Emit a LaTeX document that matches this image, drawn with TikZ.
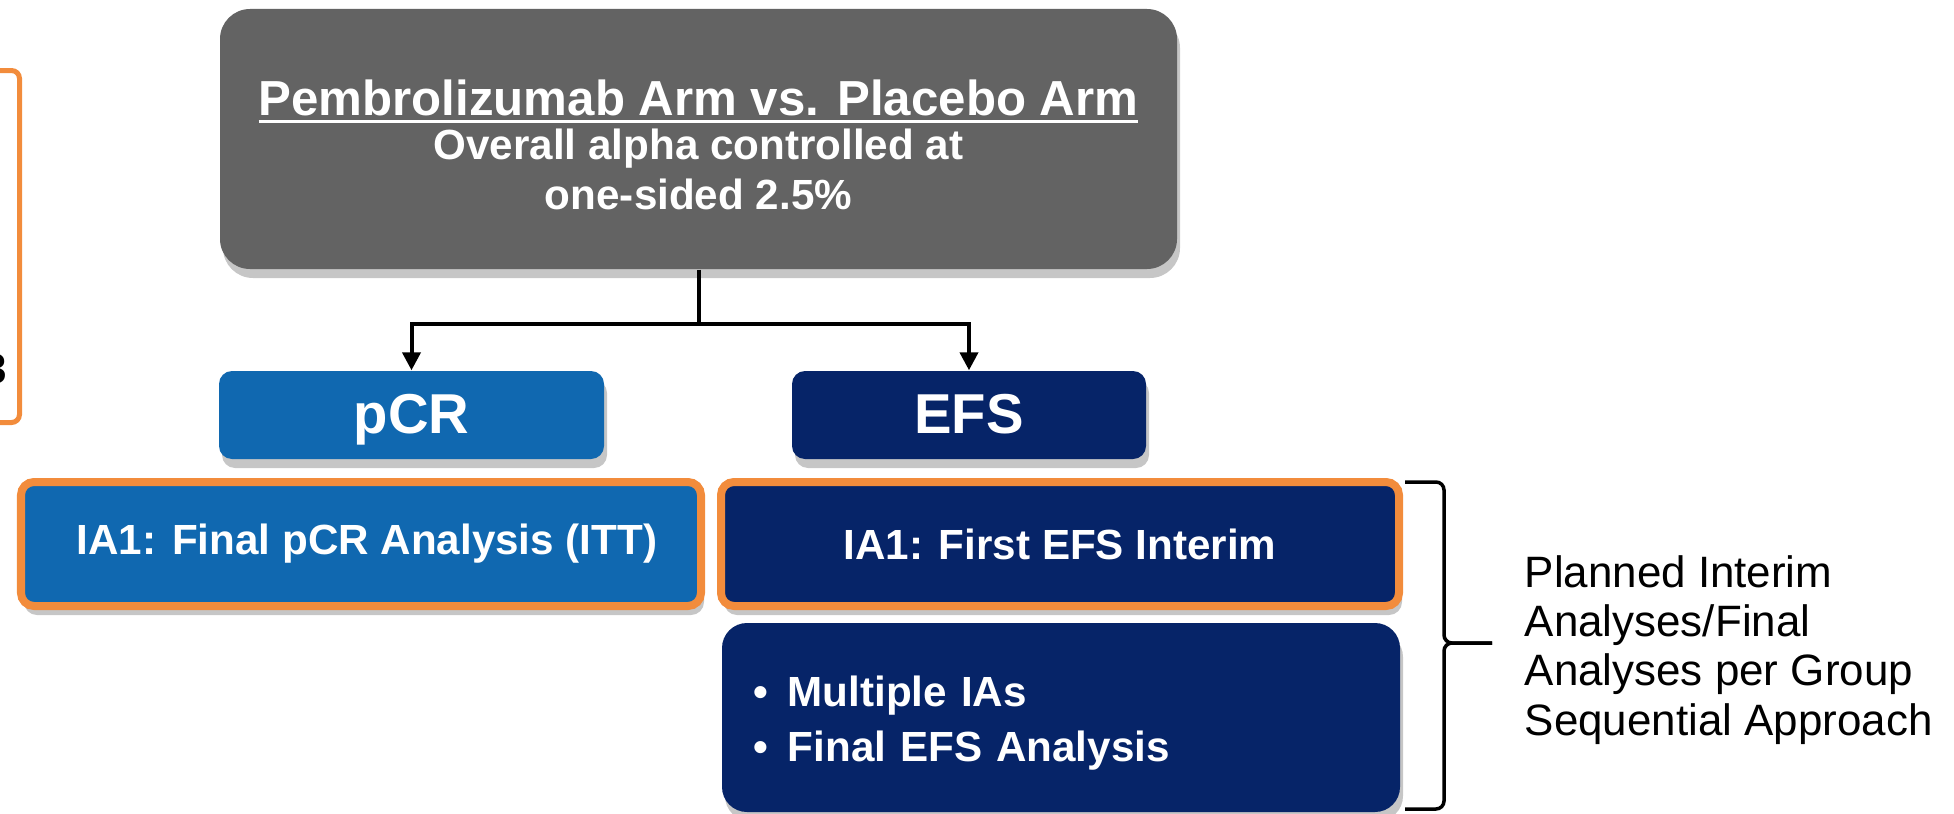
\documentclass[tikz,border=0pt]{standalone}
\usepackage{fontspec}
\setmainfont{Liberation Sans}
\usepackage{tikz}
\usetikzlibrary{arrows.meta,shadows}

\definecolor{armgray}{RGB}{99,99,99}
\definecolor{pcrblue}{RGB}{16,104,176}
\definecolor{efsnavy}{RGB}{6,36,104}
\definecolor{hiorange}{RGB}{242,140,60}

\newcommand{\ulbar}[1]{\setbox0\hbox{#1}\rlap{\rule[-2.2pt]{\wd0}{0.9pt}}\box0}

\tikzset{
  boxbase/.style={text=white, align=center, inner sep=0pt,
    drop shadow={shadow xshift=0.3mm, shadow yshift=-0.9mm, opacity=0.45}},
  armbox/.style={boxbase, fill=armgray, rounded corners=3mm},
  pcrbox/.style={boxbase, fill=pcrblue, rounded corners=1.3mm},
  efsbox/.style={boxbase, fill=efsnavy, rounded corners=1.3mm},
  hiframe/.style={draw=hiorange, line width=0.8mm},
  linkline/.style={line width=0.4mm, black},
  linkarrow/.style={linkline, -{Triangle[length=1.8mm,width=1.8mm]}},
  bracket/.style={line width=0.35mm, black, rounded corners=0.8mm}
}

\begin{document}
\begin{tikzpicture}
\path[use as bounding box, clip] (0,0) rectangle (19.54,-8.14);

% cut-off frame on the left edge
\draw[draw=hiorange, line width=0.5mm, rounded corners=0.8mm] (-1,-0.705) rectangle (0.195,-4.225);
\node[anchor=base east, inner sep=0pt, font=\bfseries\fontsize{12}{14}\selectfont] (cutnum) at (0.075,-3.83) {3};

% top box
\node[armbox, minimum width=9.57cm, minimum height=2.6cm, font=\bfseries\fontsize{12}{14.4}\selectfont] (arms) at (6.985,-1.39)
  {\rule{0pt}{13.4pt}{\fontsize{14}{16}\selectfont\ulbar{Pembrolizumab Arm vs. Placebo Arm}}\\[-1.9pt]
   Overall alpha controlled at\\ one-sided 2.5\%};

% endpoints
\node[pcrbox, minimum width=3.85cm, minimum height=0.88cm, text height=11.5pt, text depth=1.2pt, font=\bfseries\fontsize{16}{18}\selectfont] (pcr) at (4.115,-4.15) {pCR};
\node[efsbox, minimum width=3.54cm, minimum height=0.88cm, text height=11.5pt, text depth=1.2pt, font=\bfseries\fontsize{16}{18}\selectfont] (efs) at (9.69,-4.15) {EFS};

% analyses
\node[pcrbox, hiframe, minimum width=6.80cm, minimum height=1.24cm, font=\bfseries\fontsize{12}{14}\selectfont] (pcrIA) at (3.61,-5.44) {\hspace*{1.2mm}IA1: Final pCR Analysis (ITT)};
\node[efsbox, hiframe, minimum width=6.78cm, minimum height=1.24cm, font=\bfseries\fontsize{12}{14}\selectfont] (efsIA) at (10.60,-5.44) {IA1: First EFS Interim};
\node[efsbox, rounded corners=2.5mm, minimum height=1.89cm, text width=6.16cm, inner xsep=0.31cm, align=left, font=\bfseries\fontsize{12}{15.5}\selectfont] (efsFinal) at (10.61,-7.175)
  {\rule{0pt}{12pt}\textbullet\hspace{2mm}Multiple IAs\\ \textbullet\hspace{2mm}Final EFS Analysis};

% connectors
\coordinate (split) at (6.985,-3.24);
\draw[linkline] (arms.south) -- (split);
\draw[linkarrow] (split) -| (pcr.north);
\draw[linkarrow] (split) -| (efs.north);

% brace and note
\coordinate (bracetop) at (14.05,-4.82);
\coordinate (bracebot) at (14.05,-8.09);
\coordinate (bracemid) at (14.44,-6.43);
\coordinate (bracetip) at (14.92,-6.43);
\draw[bracket] (bracetop) -| (bracemid) -- (bracetip);
\draw[bracket] (bracebot) -| (bracemid) -- (bracetip);
\node[anchor=west, align=left, inner sep=0pt, font=\fontsize{12.5}{14}\selectfont] (plannote) at (15.24,-6.50)
  {Planned Interim\\Analyses/Final\\Analyses per Group\\Sequential Approach};
\end{tikzpicture}
\end{document}
